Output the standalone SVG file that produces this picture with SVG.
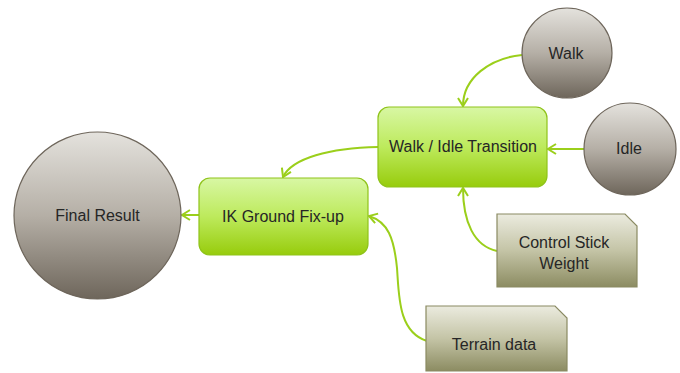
<svg xmlns="http://www.w3.org/2000/svg" width="680" height="373" viewBox="0 0 680 373">
  <defs>
    <linearGradient id="gCircle" x1="0" y1="0" x2="0" y2="1">
      <stop offset="0" stop-color="#e4e2dd"/>
      <stop offset="0.5" stop-color="#b5afa6"/>
      <stop offset="1" stop-color="#6e665b"/>
    </linearGradient>
    <linearGradient id="gGreen" x1="0" y1="0" x2="0" y2="1">
      <stop offset="0" stop-color="#d8f7a4"/>
      <stop offset="0.5" stop-color="#bdea5c"/>
      <stop offset="1" stop-color="#97cc0c"/>
    </linearGradient>
    <linearGradient id="gNote" x1="0" y1="0" x2="0" y2="1">
      <stop offset="0" stop-color="#ebebdf"/>
      <stop offset="0.5" stop-color="#c4c4a6"/>
      <stop offset="1" stop-color="#8c8c62"/>
    </linearGradient>
    <marker id="arrow" markerUnits="userSpaceOnUse" markerWidth="14" markerHeight="14" refX="9" refY="6" orient="auto">
      <path d="M1,1 L9,6 L1,11" fill="none" stroke="#9bcf1b" stroke-width="2"/>
    </marker>
  </defs>
  <style>
    .circle { fill: url(#gCircle); stroke: #6e665b; stroke-width: 1.2; }
    .proc { fill: url(#gGreen); stroke: #8fc31a; stroke-width: 1.2; }
    .note { fill: url(#gNote); stroke: #8a8a62; stroke-width: 1.2; }
    .label { font-family: "Liberation Sans", Arial, sans-serif; font-size: 16px; fill: #262626; text-anchor: middle; }
    .link { fill: none; stroke: #9bcf1b; stroke-width: 2; marker-end: url(#arrow); }
  </style>

  <rect width="680" height="373" fill="#ffffff"/>

  <g id="connectors">
    <path class="link" d="M522,55 C490,58 463,78 463,106"/>
    <path class="link" d="M584,149 L548,149"/>
    <path class="link" d="M378,147 C330,148 292,158 283,177"/>
    <path class="link" d="M199,215 L182,215"/>
    <path class="link" d="M497,251 C474,246 463,222 463,188"/>
    <path class="link" d="M427,341 C398,332 399,295 397,268 C394,238 388,222 369,216"/>
  </g>

  <g id="final-result">
    <circle class="circle" cx="97.5" cy="215.5" r="83.5"/>
    <text class="label" x="97.5" y="221">Final Result</text>
  </g>

  <g id="walk">
    <circle class="circle" cx="567" cy="53" r="45"/>
    <text class="label" x="566" y="59">Walk</text>
  </g>

  <g id="idle">
    <circle class="circle" cx="630" cy="149" r="46"/>
    <text class="label" x="629" y="154">Idle</text>
  </g>

  <g id="walk-idle-transition">
    <rect class="proc" x="378" y="107" width="169" height="80" rx="11"/>
    <text class="label" x="463" y="152">Walk / Idle Transition</text>
  </g>

  <g id="ik-ground-fixup">
    <rect class="proc" x="199" y="178" width="169" height="77" rx="11"/>
    <text class="label" x="283" y="222">IK Ground Fix-up</text>
  </g>

  <g id="control-stick-weight">
    <path class="note" d="M497,214 L625,214 L637,226 L637,287 L497,287 Z"/>
    <text class="label" x="564" y="248">Control Stick</text>
    <text class="label" x="564" y="269">Weight</text>
  </g>

  <g id="terrain-data">
    <path class="note" d="M426,306 L555,306 L567,318 L567,371 L426,371 Z"/>
    <text class="label" x="494" y="350">Terrain data</text>
  </g>
</svg>
